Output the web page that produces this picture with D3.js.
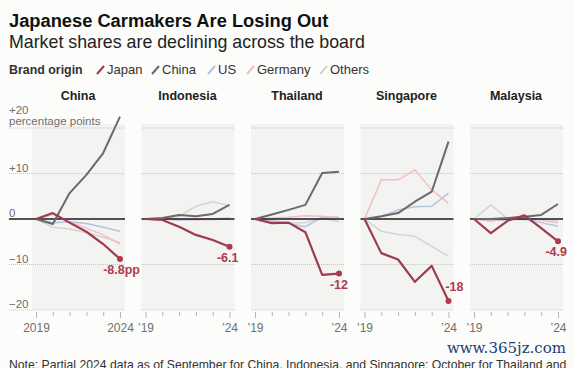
<!DOCTYPE html>
<html lang="en">
<head>
<meta charset="UTF-8">
<title>Japanese Carmakers Are Losing Out</title>
<script src="https://d3js.org/d3.v7.min.js"></script>
<style>
    body {
        margin: 0;
        background: #fcfcfa;
        font-family: "Liberation Sans", Arial, sans-serif;
    }
    .tick text { fill: #707070; font-size: 12px; }
    .tick line { stroke: #b5b5b5; }
</style>
</head>
<body>
<div id="chart"></div>
<script>
    // Market share change since 2019, percentage points
    const years = [2019, 2020, 2021, 2022, 2023, 2024];
    const markets = ["China", "Indonesia", "Thailand", "Singapore", "Malaysia"];
    const brands = ["Japan", "China", "US", "Germany", "Others"];
    const endLabels = ["-8.8pp", "-6.1", "-12", "-18", "-4.9"];
    const yTicks = [20, 10, 0, -10, -20];

    // one row per market, in the order of `markets`
    const japan = [
        [0, 1.3, -0.8, -2.8, -5.5, -8.8],
        [0, -0.2, -1.7, -3.5, -4.6, -6.1],
        [0, -0.9, -0.8, -2.9, -12.3, -12],
        [0, -7.5, -8.9, -13.8, -10.3, -18],
        [0, -3.1, -0.4, 0.8, -2.0, -4.9]
    ];
    const china = [
        [0, -1.1, 5.7, 9.7, 14.5, 22.5],
        [0, 0.2, 0.9, 0.6, 1.1, 3.1],
        [0, 1.0, 2.0, 3.1, 10.1, 10.4],
        [0, 0.6, 1.3, 3.8, 6.0, 17.0],
        [0, 0, 0.2, 0.5, 0.9, 3.3]
    ];
    const us = [
        [0, -0.8, -0.6, -1.0, -1.8, -2.7],
        [0, 0, -0.2, -0.1, 0, 0.2],
        [0, -0.4, -1.0, -1.7, 0.4, 0.4],
        [0, 0.5, 2.0, 2.7, 2.8, 5.7],
        [0, -0.3, -0.2, 0, -0.8, -1.6]
    ];
    const germany = [
        [0, 1.0, -0.6, -2.0, -3.5, -5.5],
        [0, 0.1, 0, -0.2, -0.1, 0],
        [0, 0.2, 0.4, 0.7, 0.6, 0.3],
        [0, 8.6, 8.6, 10.8, 6.4, 3.5],
        [0, -0.5, 0.2, 0.5, -0.3, -0.8]
    ];
    const others = [
        [0, -1.8, -2.2, -3.0, -4.0, -5.2],
        [0, 0, 0.6, 2.8, 3.8, 2.9],
        [0, -0.4, -0.9, -0.8, 0.2, -0.6],
        [0, -2.7, -3.4, -3.8, -6.0, -8.2],
        [0, 3.1, 0.1, -0.2, 0, -0.4]
    ];

    const seriesByBrand = { Japan: japan, China: china, US: us, Germany: germany, Others: others };
    const colors = { Japan: "#9e3b4f", China: "#6a6a6a", US: "#b4c3e2", Germany: "#f3bccb", Others: "#d4d4d4" };
    const widths = { Japan: 2.2, China: 2, US: 1.5, Germany: 1.5, Others: 1.5 };
    const drawOrder = ["Others", "US", "Germany"];
    const labelRed = "#b0394b";

    const W = 574, H = 368;
    const plotW = 84;

    const svg = d3.select("#chart").append("svg")
        .attr("width", W)
        .attr("height", H)
        .style("display", "block");

    // title block
    svg.append("text")
        .attr("x", 9).attr("y", 27)
        .style("font-size", "18.3px")
        .style("font-weight", "bold")
        .style("fill", "#111")
        .text("Japanese Carmakers Are Losing Out");
    svg.append("text")
        .attr("x", 9).attr("y", 48)
        .style("font-size", "17.8px")
        .style("fill", "#222")
        .text("Market shares are declining across the board");

    // legend
    const legend = svg.append("g").attr("transform", "translate(9,74)");
    legend.append("text")
        .style("font-size", "12.4px")
        .style("font-weight", "bold")
        .style("fill", "#333")
        .text("Brand origin");
    const legendX = [88, 143, 199, 238, 311];
    brands.forEach((b, i) => {
        const g = legend.append("g").attr("transform", `translate(${legendX[i]},0)`);
        g.append("line")
            .attr("x1", 0).attr("y1", 0).attr("x2", 7).attr("y2", -8)
            .style("stroke", colors[b])
            .style("stroke-width", 2);
        g.append("text")
            .attr("x", 10)
            .style("font-size", "13px")
            .style("fill", "#333")
            .text(b);
    });

    const panelX = d3.scalePoint().domain(markets).range([36, 474]);
    const y = d3.scaleLinear().domain([-20, 20]).range([310, 128]);

    markets.forEach((m, i) => {
        const x0 = panelX(m);
        const x = d3.scaleLinear().domain([2019, 2024]).range([x0, x0 + plotW]);
        const g = svg.append("g");
        const left = i === 0 ? 9 : x0 - 4;
        const right = x0 + plotW + 5;

        g.append("rect")
            .attr("x", x0 - 4)
            .attr("y", 124)
            .attr("width", right - (x0 - 4))
            .attr("height", 186)
            .style("fill", "#f3f3f1");

        g.append("text")
            .attr("x", x0 + plotW / 2)
            .attr("y", 100)
            .attr("text-anchor", "middle")
            .style("font-size", "12.5px")
            .style("font-weight", "bold")
            .style("fill", "#222")
            .text(m);

        // dotted gridlines
        g.selectAll("line.grid")
            .data(yTicks.filter(t => t !== 0))
            .join("line")
            .attr("class", "grid")
            .attr("x1", left).attr("x2", right)
            .attr("y1", d => y(d)).attr("y2", d => y(d))
            .style("stroke", "#c4c4c4")
            .style("stroke-dasharray", "1,1");

        if (i === 0) {
            g.selectAll("text.ylab")
                .data(yTicks)
                .join("text")
                .attr("class", "ylab")
                .attr("x", 9)
                .attr("y", d => d === 20 ? y(d) - 14 : y(d) - 2)
                .style("font-size", "11.5px")
                .style("fill", "#6e6e6e")
                .text(d => d > 0 ? "+" + d : d < 0 ? "\u2212" + Math.abs(d) : "0");
            g.append("text")
                .attr("x", 9)
                .attr("y", y(20) - 3)
                .style("font-size", "11.5px")
                .style("fill", "#6e6e6e")
                .text("percentage points");
        }

        const line = d3.line()
            .x((d, k) => x(years[k]))
            .y(d => y(d));

        drawOrder.forEach(b => {
            g.append("path")
                .datum(seriesByBrand[b][i])
                .attr("d", line)
                .style("fill", "none")
                .style("stroke", colors[b])
                .style("stroke-width", widths[b])
                .style("stroke-linejoin", "round");
        });

        g.append("line")
            .attr("x1", left).attr("x2", right)
            .attr("y1", y(0)).attr("y2", y(0))
            .style("stroke", "#1a1a1a")
            .style("stroke-width", 1.5);

        ["China", "Japan"].forEach(b => {
            g.append("path")
                .datum(seriesByBrand[b][i])
                .attr("d", line)
                .style("fill", "none")
                .style("stroke", colors[b])
                .style("stroke-width", widths[b])
                .style("stroke-linejoin", "round");
        });

        const last = japan[i][years.length - 1];
        g.append("circle")
            .attr("cx", x(2024))
            .attr("cy", y(last))
            .attr("r", 3)
            .style("fill", labelRed);

        const above = m === "Singapore";
        g.append("text")
            .attr("x", above ? x(2024) + 15 : x(2024) + (i === 0 ? 20 : 9))
            .attr("y", above ? y(last) - 10 : y(last) + 15)
            .attr("text-anchor", "end")
            .style("font-size", "12.5px")
            .style("font-weight", "bold")
            .style("fill", labelRed)
            .text(endLabels[i]);

        // x axis
        const ax = g.append("g")
            .attr("transform", `translate(0,${y(-20) + 2})`)
            .call(d3.axisBottom(x)
                .tickValues(years)
                .tickSize(4)
                .tickPadding(7)
                .tickFormat(d => {
                    if (d !== 2019 && d !== 2024) return "";
                    return i === 0 ? String(d) : "\u2019" + String(d).slice(2);
                }));
        ax.select(".domain").remove();
        ax.selectAll(".tick")
            .filter(d => d === 2019 || d === 2024)
            .select("line")
            .attr("y2", 6);
    });

    svg.append("text")
        .attr("x", 566).attr("y", 353)
        .attr("text-anchor", "end")
        .style("font-family", "'DejaVu Serif', 'Liberation Serif', serif")
        .style("font-size", "15px")
        .style("fill", "#1d3d78")
        .text("www.365jz.com");

    svg.append("text")
        .attr("x", 9).attr("y", 369)
        .style("font-size", "12.2px")
        .style("fill", "#333")
        .text("Note: Partial 2024 data as of September for China, Indonesia, and Singapore; October for Thailand and");
</script>
</body>
</html>
